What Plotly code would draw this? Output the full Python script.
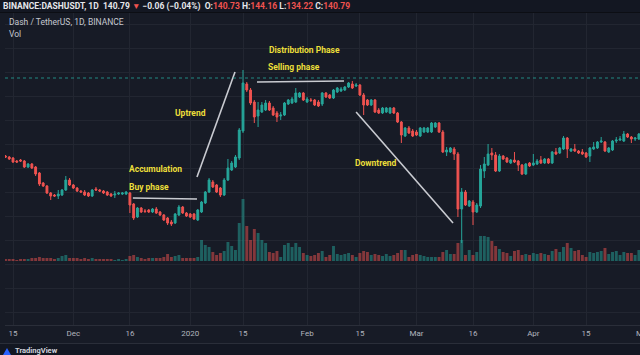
import plotly.graph_objects as go
import pandas as pd

# ---------------- data (daily DASH/USDT candles) ----------------
start_date = "2019-11-13"
open_ = [72, 71.5, 71, 69.5, 70, 69.5, 66.5, 68, 66.5, 63.5, 58.5, 57, 53.5, 52.5, 52, 52.5, 55,
         60, 57.5, 56, 54.5, 54, 53.5, 52, 55.5, 55, 54.5, 54, 53, 52.5, 53, 53, 53,
         53.5, 48, 41.5, 46, 44.5, 45, 44, 45.5, 44, 42.5, 41, 39, 38.5, 42.5, 46.5, 43.5, 43, 43, 40, 44,
         48.5, 54, 59, 57.5, 56, 52.5, 60, 65, 66.5, 71,
         84.5, 108, 105, 99, 92, 94, 95, 98.5, 96, 93.5,
         92, 92.5, 98, 98.5, 99, 101.5, 103.5, 99, 100, 100,
         99, 98, 103.5, 102.5, 101, 104, 104.5, 105, 106.5, 108,
         107, 107.5, 102.5, 100, 97.5, 100, 95, 93.5, 94, 93.5,
         96, 93.5, 89, 82, 86, 84.5, 84, 82, 84, 84,
         84, 86.5, 88.5, 84, 74, 74, 75.5, 73, 45.5, 54,
         47, 49, 44, 47, 64.5, 67.5, 73.5, 72.5, 64.5, 72,
         71, 68.5, 70, 69.5, 67.5, 63, 68.5, 67.5, 68, 70,
         68.5, 70.5, 68.5, 74, 73.5, 75.5, 81, 74.5, 75.5, 74.5,
         74, 73.5, 72, 75.5, 76, 79, 79, 74, 75, 79.5,
         80, 79.5, 83, 81.5, 80.5, 80.5]
high = [72.5, 72, 71.5, 70, 70.5, 70, 68.5, 68.5, 67, 64, 59, 57.5, 54, 53, 55, 55.5, 62,
        61, 58, 56.5, 55, 55, 54, 55.5, 56.5, 55.5, 55, 54.5, 53.5, 54.5, 54, 54, 54.5,
        54, 48.5, 46.5, 46.5, 45.5, 45.5, 46, 46.5, 44.5, 43, 41.5, 40, 43.5, 47.5, 47, 44, 43.5, 43.5, 45.5, 49.5,
        54.5, 61, 60, 58, 56.5, 61, 70.5, 69.5, 72.5, 86,
        115, 109, 106, 100, 99, 99, 100, 99.5, 97, 94.5,
        94, 99, 100.5, 101.5, 106, 104, 104, 101.5, 101, 100.5,
        100, 104, 104, 103, 105.5, 106.5, 106.5, 107, 109, 109.5,
        108.5, 108, 103.5, 100.5, 100.5, 100.5, 96, 96.5, 96.5, 96.5,
        96.5, 94, 89.5, 86.5, 87, 85.5, 85, 86.5, 86.5, 86.5,
        89, 89, 89, 85, 76.5, 76.5, 76.5, 74, 56, 55,
        50, 50, 48.5, 67.5, 71.5, 78, 76, 74, 73, 72.5,
        71.5, 70.5, 74, 70, 68, 68.5, 69, 73, 70.5, 72,
        71, 71, 74.5, 76, 76.5, 82, 81.5, 76, 78, 75,
        75.5, 74, 76.5, 79, 79.5, 81.5, 79.5, 76.5, 80, 81.5,
        82, 84.5, 83.5, 82, 81.5, 83.5]
low = [71, 70, 68.5, 68.5, 69, 66, 66, 65.5, 62, 57, 56.5, 53, 50, 51.5, 50.5, 52, 54.5,
       57, 55.5, 54, 53.5, 52, 51.5, 51.5, 54.5, 54, 53, 52, 51.5, 51, 52.5, 52.5, 52.5,
       43.5, 40, 41, 43.5, 43.5, 43.5, 43.5, 43, 42, 39.5, 37.5, 37, 38, 42, 43, 41.5, 41, 40, 39.5, 43.5,
       48, 53.5, 56, 53.5, 51.5, 52, 59.5, 64.5, 66, 70,
       83.5, 104, 97.5, 88.5, 86.5, 93.5, 94.5, 94.5, 92, 89,
       90, 92, 97.5, 98, 98.5, 101, 99.5, 98.5, 99, 97,
       96.5, 97, 101, 100.5, 100.5, 103.5, 104, 104.5, 106, 105.5,
       106.5, 102, 92.5, 97, 97, 93.5, 93, 93, 93.5, 93,
       93, 88.5, 78.5, 81.5, 83, 81.5, 82, 81.5, 83.5, 83.5,
       83.5, 86, 83.5, 73.5, 72, 73.5, 70, 41.5, 28.5, 47,
       46.5, 37.5, 43.5, 46, 61, 67, 70, 64, 64, 70,
       68.5, 68, 68.5, 64.5, 62.5, 62.5, 66.5, 67, 67.5, 68,
       68, 68, 68, 72.5, 73, 75, 71, 74, 74, 73,
       72.5, 71, 69, 75, 75.5, 78.5, 74, 73.5, 74.5, 78.5,
       79.5, 79, 81, 78.5, 79.5, 80]
close = [71.5, 70.5, 69, 69, 69.5, 66.5, 68, 66, 63, 58, 57, 53.5, 52, 52, 53, 55, 60,
         57.5, 56, 54.5, 54, 52.5, 52, 55, 55, 54.5, 53.5, 52.5, 52, 53, 53.5, 53.5, 54,
         47.5, 41, 46, 44, 44.3, 44, 45.5, 43.5, 42.5, 40, 38.5, 38, 43, 46.5, 43.5, 42, 41.5, 40.5, 45, 49,
         54, 60, 56.5, 54, 52.5, 60, 66, 68.5, 71.5, 85,
         108.5, 105, 98.5, 91.5, 95, 97.5, 98.5, 95, 92.5, 91.5,
         92.5, 98.5, 100, 100.5, 103.5, 103.5, 100, 100.5, 99.8, 97.5,
         97, 103.5, 101.5, 101, 105, 106, 105.5, 106.5, 108.5, 106,
         107.5, 102.5, 97.5, 97.5, 100, 94, 93.5, 96, 96, 96,
         93.5, 89, 82.5, 86, 83.5, 82, 82.5, 86, 86, 86,
         88.5, 88.5, 84, 74, 75, 76, 73, 45.5, 54, 47.5,
         49.5, 44, 47.5, 65.5, 68, 73, 72.5, 64.5, 72, 70.5,
         69, 70, 69, 67.5, 63, 68, 67, 68.5, 69.5, 68.5,
         70.5, 68.5, 74, 73, 76, 81, 75.5, 75.5, 74.5, 73.5,
         73, 71.5, 76, 76.5, 79, 79.5, 74.5, 76, 79.5, 80,
         80.5, 83, 81.5, 80.5, 81, 83]
volume_k = [2, 2, 2, 1, 2, 2, 2, 3, 3, 4, 3, 3, 3, 2, 3, 5, 6, 3, 3, 3, 2, 3, 2, 3, 2, 2, 2, 2, 2, 1, 2, 1, 2,
            5, 6, 4, 3, 2, 3, 3, 3, 3, 4, 7, 4, 5, 6, 3, 3, 3, 3, 4, 21,
            16, 14, 9, 6, 8, 10, 19, 15, 11, 38,
            62, 35, 21, 32, 28, 21, 18, 9, 8, 10,
            4, 16, 18, 14, 18, 14, 8, 6, 5, 6,
            8, 10, 4, 6, 15, 7, 6, 7, 8, 6,
            4, 8, 10, 9, 6, 7, 6, 5, 7, 5,
            6, 8, 11, 11, 4, 6, 7, 6, 5, 4,
            4, 4, 4, 9, 11, 7, 7, 18, 21, 6,
            11, 6, 9, 25, 25, 24, 20, 15, 12, 9,
            8, 5, 10, 11, 6, 7, 6, 8, 7, 8,
            7, 6, 10, 12, 9, 14, 18, 13, 10, 11,
            6, 4, 9, 8, 9, 10, 13, 7, 9, 10,
            6, 9, 8, 8, 6, 11]

tick_dates = ["2019-11-15", "2019-12-01", "2019-12-16", "2020-01-01", "2020-01-15", "2020-02-01",
              "2020-02-15", "2020-03-01", "2020-03-16", "2020-04-01", "2020-04-15"]
tick_text = ["15", "Dec", "16", "2020", "15", "Feb", "15", "Mar", "16", "Apr", "15"]

# user drawings (trend lines and labels), in date / price coordinates
trend_lines = {
    "accumulation": (["2019-12-16 19:00", "2020-01-02 19:00"], [51, 50.5]),
    "uptrend": (["2020-01-02 19:00", "2020-01-12 21:00"], [61.5, 114]),
    "selling": (["2020-01-18 17:00", "2020-02-10 19:00"], [109, 109.5]),
    "downtrend": (["2020-02-14 00:00", "2020-03-10 17:00"], [94, 38.5]),
}
label_text = ["Accumulation", "Buy phase", "Uptrend", "Distribution Phase", "Selling phase", "Downtrend"]
label_x = ["2019-12-15 06:00", "2019-12-15 06:00", "2019-12-27 10:00", "2020-01-21 09:00",
           "2020-01-21 02:00", "2020-02-13 05:00"]
label_y = [65.5, 56.5, 93.5, 125, 116.5, 68.5]
price_line = 111

# ---------------- figure ----------------
dates = pd.date_range(start_date, periods=len(close), freq="D")
UP, DOWN = "#26a69a", "#ef5350"
vol_colors = ["rgba(38,166,154,0.5)" if c >= o else "rgba(239,83,80,0.5)" for o, c in zip(open_, close)]

fig = go.Figure()
fig.add_trace(go.Bar(x=dates, y=volume_k, marker=dict(color=vol_colors, line=dict(width=0)),
                     width=0.78 * 86400000, yaxis="y2", hoverinfo="skip"))
fig.add_trace(go.Candlestick(x=dates, open=open_, high=high, low=low, close=close,
                             increasing=dict(line=dict(color=UP, width=1), fillcolor=UP),
                             decreasing=dict(line=dict(color=DOWN, width=1), fillcolor=DOWN),
                             whiskerwidth=0, hoverinfo="skip"))
for name, (tx, ty) in trend_lines.items():
    fig.add_trace(go.Scatter(x=tx, y=ty, mode="lines", line=dict(color="#c9cbd1", width=1.6),
                             hoverinfo="skip"))

BG = "#171b26"
HEAD = "#131722"
W, H = 640, 355
L, T, B = 5, 13, 30
plot_h = H - T - B  # 312


def py(px):  # pixel row -> paper y
    return (H - B - px) / plot_h


def pxp(px):  # pixel column -> paper x
    return (px - L) / (W - L)


annotations = []
for t, x, y in zip(label_text, label_x, label_y):
    annotations.append(dict(x=x, y=y, xref="x", yref="y", text="<b>%s</b>" % t, showarrow=False,
                            xanchor="left", yanchor="middle",
                            font=dict(family="Roboto", size=8.5, color="#ecdf3a")))
red = "<span style='color:#ef5350'>%s</span>"
header = ("<b>BINANCE:DASHUSDT, 1D  140.79 " + red % "▼" + " −0.06 (−0.04%)  O:" + red % "140.73" +
          " H:" + red % "144.16" + " L:" + red % "134.22" + " C:" + red % "140.79" + "</b>")
annotations += [
    dict(x=pxp(1), y=py(6), xref="paper", yref="paper", text=header, showarrow=False, xanchor="left",
         yanchor="middle", font=dict(family="Roboto", size=8.5, color="#e6e7eb")),
    dict(x=pxp(7), y=py(22), xref="paper", yref="paper", text="Dash / TetherUS, 1D, BINANCE", showarrow=False,
         xanchor="left", yanchor="middle", font=dict(family="Roboto", size=8.5, color="#c5c8d0")),
    dict(x=pxp(7), y=py(34), xref="paper", yref="paper", text="Vol", showarrow=False,
         xanchor="left", yanchor="middle", font=dict(family="Roboto", size=8.5, color="#c5c8d0")),
    dict(x=pxp(13), y=py(350), xref="paper", yref="paper", text="<b>TradingView</b>", showarrow=False,
         xanchor="left", yanchor="middle", font=dict(family="Roboto", size=7.5, color="#d1d4dc")),
    dict(x=pxp(634), y=py(334), xref="paper", yref="paper", text="May", showarrow=False,
         xanchor="left", yanchor="middle", font=dict(family="Roboto", size=8, color="#b2b5be")),
]

shapes = [
    dict(type="rect", xref="paper", yref="paper", x0=pxp(0), x1=pxp(640), y0=py(12.5), y1=py(0),
         fillcolor=HEAD, line=dict(width=0), layer="below"),
    dict(type="line", xref="paper", yref="paper", x0=pxp(0), x1=pxp(640), y0=py(12.5), y1=py(12.5),
         line=dict(color="#0c0e14", width=1)),
    dict(type="line", xref="paper", yref="paper", x0=pxp(0), x1=pxp(640), y0=py(343.5), y1=py(343.5),
         line=dict(color="#2a2e39", width=1)),
    dict(type="rect", xref="paper", yref="paper", x0=pxp(0), x1=pxp(640), y0=py(355), y1=py(344),
         fillcolor=HEAD, line=dict(width=0), layer="below"),
    dict(type="line", xref="paper", yref="y", x0=0, x1=1, y0=price_line, y1=price_line,
         line=dict(color="#26a69a", width=1, dash="dot"), opacity=0.8),
    dict(type="path", xref="paper", yref="paper",
         path="M %f %f L %f %f L %f %f Z" % (pxp(3), py(355), pxp(7), py(348), pxp(11), py(355)),
         fillcolor="#2962ff", line=dict(width=0)),
]

fig.update_layout(
    width=W, height=H, margin=dict(l=L, r=0, t=T, b=B),
    paper_bgcolor=BG, plot_bgcolor=BG, showlegend=False, hovermode=False,
    font=dict(family="Roboto", color="#b2b5be"),
    xaxis=dict(type="date", range=["2019-11-12 21:00", "2020-04-29 07:00"], rangeslider=dict(visible=False),
               tickvals=tick_dates, ticktext=tick_text, tickfont=dict(size=8, color="#b2b5be"),
               showgrid=True, gridcolor="#222631", gridwidth=1, zeroline=False, ticks="",
               showline=True, linecolor="#2a2e39", fixedrange=True),
    yaxis=dict(range=[-12.5, 143.5], tick0=30, dtick=12, showgrid=True, gridcolor="#222631",
               showticklabels=False, zeroline=False, ticks="", fixedrange=True),
    yaxis2=dict(range=[-64, 248], overlaying="y", showgrid=False, showticklabels=False,
                zeroline=False, ticks="", fixedrange=True),
    bargap=0.2,
    annotations=annotations, shapes=shapes,
)

fig.write_html("out.html", config={"displayModeBar": False},
               post_script="document.body.style.margin='0';document.body.style.overflow='hidden';"
                           "document.body.style.background='%s';" % BG)
